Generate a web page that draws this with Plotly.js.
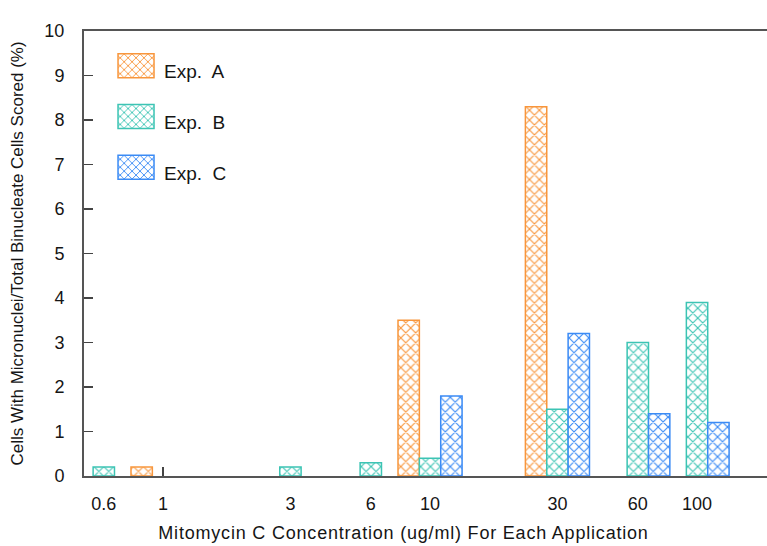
<!DOCTYPE html>
<html>
<head>
<meta charset="utf-8">
<script src="https://cdn.plot.ly/plotly-3.0.1.min.js"></script>
<style>
html,body{margin:0;padding:0;background:#fff;}
#chart{width:767px;height:546px;}
#chart .xtitle{letter-spacing:0.8px;}
</style>
</head>
<body>
<div id="chart"></div>
<script>
const concentrations = [0.6, 1, 3, 6, 10, 30, 60, 100];
const tickLabels = ["0.6", "1", "3", "6", "10", "30", "60", "100"];
const expA = [null, 0.2, null, null, 3.5, 8.3, null, null];
const expB = [0.2, null, 0.2, 0.3, 0.4, 1.5, 3.0, 3.9];
const expC = [null, null, null, null, 1.8, 3.2, 1.4, 1.2];
const seriesNames = ["Exp.\u00a0 A", "Exp.\u00a0 B", "Exp.\u00a0 C"];
const seriesColors = ["#F8963C", "#3CC4B4", "#3B8BF5"];

const logX = concentrations.map(v => Math.log10(v));
const barW = 0.08;
const offsets = [-1.5 * barW, -0.5 * barW, 0.5 * barW];
const FONT = "Liberation Sans, Arial, sans-serif";
const TXT = "#151515";

const traces = [expA, expB, expC].map((vals, i) => ({
  type: "bar",
  name: seriesNames[i],
  legendgroup: "g" + i,
  x: logX,
  y: vals,
  width: barW,
  offset: offsets[i],
  marker: {
    color: seriesColors[i],
    line: {color: seriesColors[i], width: 1.5},
    pattern: {shape: "x", fillmode: "replace", bgcolor: "#ffffff", fgcolor: seriesColors[i], size: 7, solidity: 0.3}
  },
  hoverinfo: "x+y"
}));

const layout = {
  width: 767, height: 546,
  margin: {l: 84, r: 0, t: 31, b: 70},
  paper_bgcolor: "#fff", plot_bgcolor: "#fff",
  barmode: "overlay",
  showlegend: true,
  font: {family: FONT, color: TXT, size: 18},
  legend: {x: 0.0586, y: 0.953, xanchor: "left", yanchor: "top", bgcolor: "rgba(0,0,0,0)",
           font: {family: FONT, size: 19, color: TXT}, tracegroupgap: 23},
  xaxis: {
    range: [-0.296, 2.262],
    tickvals: logX, ticktext: tickLabels,
    ticks: "inside", ticklen: 9, tickwidth: 1.5, tickcolor: "#444",
    showline: true, linecolor: "#555", linewidth: 2, mirror: true,
    showgrid: false, zeroline: false, layer: "below traces",
    ticklabelstandoff: 10,
    tickfont: {family: FONT, size: 18, color: TXT},
    title: {text: "Mitomycin C Concentration (ug/ml) For Each Application", font: {family: FONT, size: 18, color: TXT}, standoff: 14}
  },
  yaxis: {
    range: [0, 10], dtick: 1,
    ticks: "inside", ticklen: 9, tickwidth: 1.5, tickcolor: "#444",
    showline: true, linecolor: "#555", linewidth: 2,
    showgrid: false, zeroline: false, layer: "below traces",
    ticklabelstandoff: 14,
    tickfont: {family: FONT, size: 18, color: TXT},
    title: {text: "Cells With Micronuclei/Total Binucleate Cells Scored (%)", font: {family: FONT, size: 17, color: TXT}, standoff: 16}
  }
};

Plotly.newPlot("chart", traces, layout, {displayModeBar: false, staticPlot: true}).then(gd => {
  gd.querySelectorAll(".legend [clip-path]").forEach(el => el.removeAttribute("clip-path"));
  gd.querySelectorAll(".legend .legendpoints path").forEach(p => {
    p.setAttribute("d", "M18,12H-18V-12H18Z");
    p.setAttribute("transform", "translate(12,-5)");
  });
  const xt = gd.querySelector(".xtitle");
  if (xt) xt.setAttribute("transform", "translate(-22,0)");
});
</script>
</body>
</html>
